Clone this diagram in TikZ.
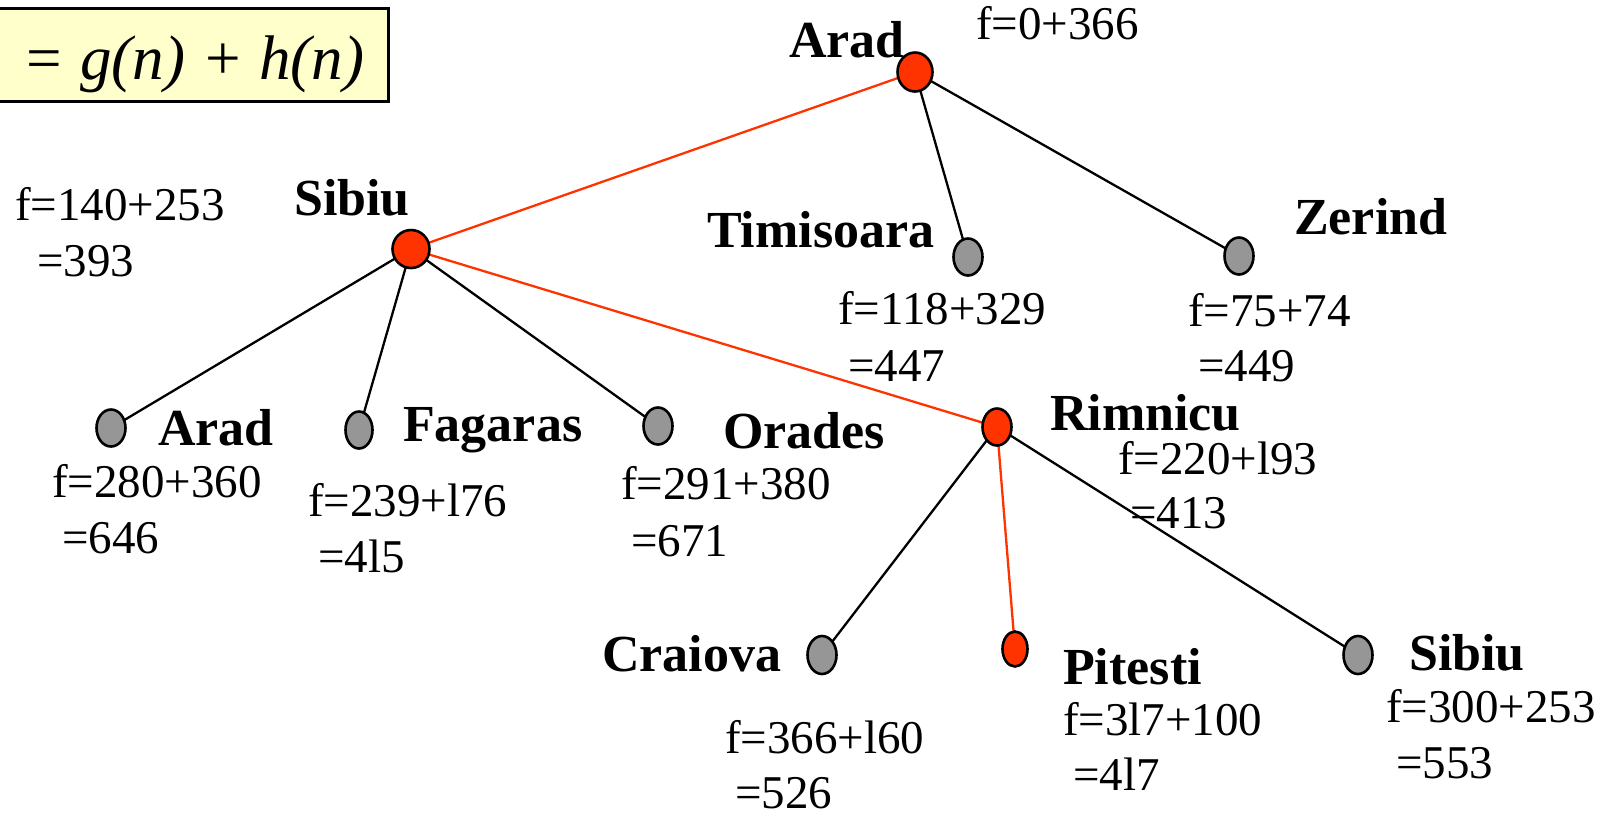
\documentclass[tikz,border=0pt]{standalone}
\usepackage{fontspec}
\setmainfont{Liberation Serif}
\usetikzlibrary{shapes.geometric}
\definecolor{openred}{HTML}{FF3300}
\definecolor{closedgray}{HTML}{969696}
\definecolor{notefill}{HTML}{FFFFCC}
\tikzset{
  state/.style={ellipse, draw=black, line width=2.6pt, inner sep=0pt,
                minimum width=29pt, minimum height=37pt, fill=closedgray},
  expanded/.style={state, fill=openred},
  city/.style={anchor=base west, inner sep=0pt,
               font=\fontsize{52}{60}\selectfont\bfseries},
  cost/.style={anchor=base west, inner sep=0pt,
               font=\fontsize{47}{56}\selectfont},
  edge/.style={line width=2.3pt, draw=black},
  path/.style={line width=2.3pt, draw=openred}
}
\begin{document}
\begin{tikzpicture}[x=1pt,y=-1pt]
\useasboundingbox (0,0) rectangle (1603,815);

% evaluation function box
\node[draw=black, line width=2.6pt, fill=notefill, inner sep=0pt,
      minimum width=392pt, minimum height=93pt, anchor=north west]
      (fbox) at (-5,7) {};
\node[anchor=base west, inner sep=0pt,
      font=\fontsize{63}{70}\selectfont\itshape] (ftext) at (22,79)
      {= g(n) + h(n)};

% search tree nodes
\coordinate (pA0) at (915,72);
\coordinate (pS1) at (411,249);
\coordinate (pT)  at (968,257);
\coordinate (pZ)  at (1239,256);
\coordinate (pA2) at (111,428);
\coordinate (pF)  at (359,430);
\coordinate (pO)  at (658,426);
\coordinate (pR)  at (997,427);
\coordinate (pC)  at (822,655);
\coordinate (pP)  at (1015,649);
\coordinate (pS2) at (1358,655);

% edges (drawn first, nodes on top)
\draw[path] (pA0) -- (pS1);
\draw[edge] (pA0) -- (pT);
\draw[edge] (pA0) -- (pZ);
\draw[edge] (pS1) -- (pA2);
\draw[edge] (pS1) -- (pF);
\draw[edge] (pS1) -- (pO);
\draw[path] (pS1) -- (pR);
\draw[edge] (pR) -- (pC);
\draw[path] (pR) -- (pP);
\draw[edge] (pR) -- (pS2);

\node[expanded, minimum width=35pt, minimum height=39pt] (A0) at (pA0) {};
\node[expanded, minimum width=37pt, minimum height=38pt] (S1) at (pS1) {};
\node[state] (T)  at (pT)  {};
\node[state] (Z)  at (pZ)  {};
\node[state] (A2) at (pA2) {};
\node[state, minimum width=27pt] (F) at (pF) {};
\node[state] (O)  at (pO)  {};
\node[expanded] (R) at (pR) {};
\node[state, minimum height=38pt] (C) at (pC) {};
\node[expanded, minimum width=25pt, minimum height=35pt] (P) at (pP) {};
\node[state, minimum height=38pt] (S2) at (pS2) {};

% city names
\node[city] (nA0) at (789,57)   {Arad};
\node[city] (nS1) at (294,215)  {Sibiu};
\node[city] (nT)  at (707,247)  {Timisoara};
\node[city] (nZ)  at (1294,234) {Zerind};
\node[city] (nA2) at (158,445)  {Arad};
\node[city] (nF)  at (403,441)  {Fagaras};
\node[city] (nO)  at (723,448)  {Orades};
\node[city] (nR)  at (1050,430) {Rimnicu};
\node[city] (nC)  at (602,671)  {Craiova};
\node[city] (nP)  at (1063,684) {Pitesti};
\node[city] (nS2) at (1409,670) {Sibiu};

% f-values
\node[cost] (fA0)  at (976,39)   {f=0+366};
\node[cost] (fS1)  at (15,220)   {f=140+253};
\node[cost] (vS1)  at (37,276)   {=393};
\node[cost] (fT)   at (838,324)  {f=118+329};
\node[cost] (vT)   at (848,381)  {=447};
\node[cost] (fZ)   at (1188,326) {f=75+74};
\node[cost] (vZ)   at (1198,381) {=449};
\node[cost] (fA2)  at (52,497)   {f=280+360};
\node[cost] (vA2)  at (62,553)   {=646};
\node[cost] (fF)   at (308,516)  {f=239+l76};
\node[cost] (vF)   at (318,572)  {=4l5};
\node[cost] (fO)   at (621,499)  {f=291+380};
\node[cost] (vO)   at (631,556)  {=671};
\node[cost] (fR)   at (1118,474) {f=220+l93};
\node[cost] (vR)   at (1130,528) {=413};
\node[cost] (fC)   at (725,753)  {f=366+l60};
\node[cost] (vC)   at (735,808)  {=526};
\node[cost] (fP)   at (1063,735) {f=3l7+100};
\node[cost] (vP)   at (1073,790) {=4l7};
\node[cost] (fS2)  at (1386,722) {f=300+253};
\node[cost] (vS2)  at (1396,778) {=553};
\end{tikzpicture}
\end{document}
